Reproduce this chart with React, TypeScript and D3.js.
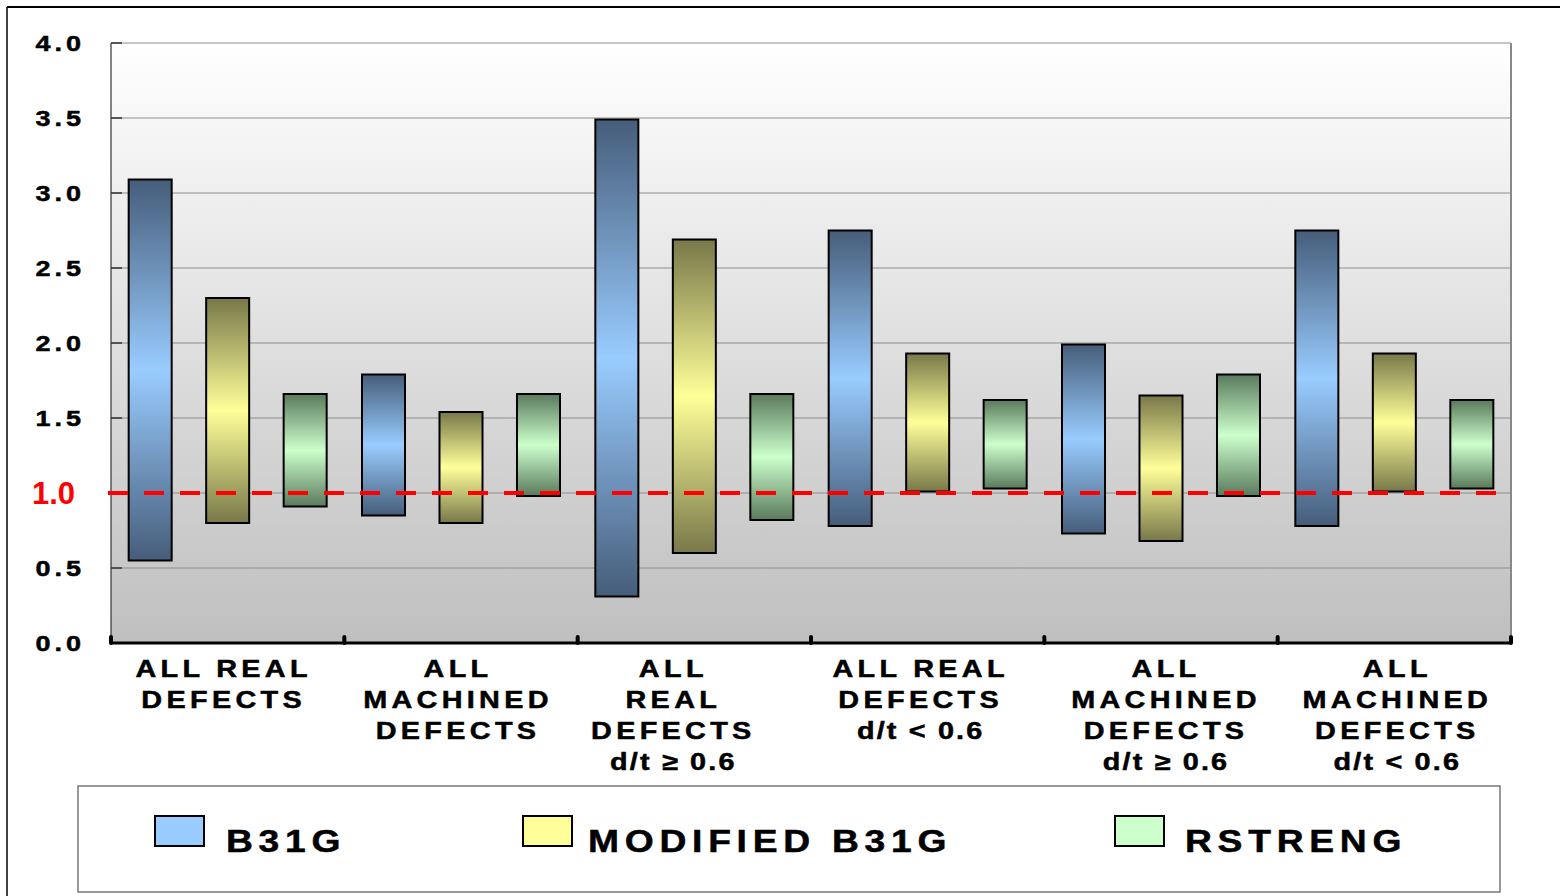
import React from "react";
import * as d3 from "d3";

// Categories (each label split into its display lines)
const categories: string[][] = [
  ["ALL REAL", "DEFECTS"],
  ["ALL", "MACHINED", "DEFECTS"],
  ["ALL", "REAL", "DEFECTS", "d/t ≥ 0.6"],
  ["ALL REAL", "DEFECTS", "d/t < 0.6"],
  ["ALL", "MACHINED", "DEFECTS", "d/t ≥ 0.6"],
  ["ALL", "MACHINED", "DEFECTS", "d/t < 0.6"],
];

const seriesNames = ["B31G", "MODIFIED B31G", "RSTRENG"];

// Range of predicted/actual ratio per method: [low, high]
const b31gRange: [number, number][] = [
  [0.55, 3.09],
  [0.85, 1.79],
  [0.31, 3.49],
  [0.78, 2.75],
  [0.73, 1.99],
  [0.78, 2.75],
];
const modB31gRange: [number, number][] = [
  [0.8, 2.3],
  [0.8, 1.54],
  [0.6, 2.69],
  [1.01, 1.93],
  [0.68, 1.65],
  [1.01, 1.93],
];
const rstrengRange: [number, number][] = [
  [0.91, 1.66],
  [0.98, 1.66],
  [0.82, 1.66],
  [1.03, 1.62],
  [0.98, 1.79],
  [1.03, 1.62],
];

const yTicks = [0, 0.5, 1.0, 1.5, 2.0, 2.5, 3.0, 3.5, 4.0];
const referenceValue = 1.0;

const palette = [
  { id: "gB31G", dark: "#465d7a", light: "#99ccff" },
  { id: "gMod", dark: "#78784a", light: "#ffff99" },
  { id: "gRst", dark: "#5a7a5c", light: "#ccffcc" },
];

// horizontal nudges of the category label blocks (px)
const labelNudge = [-4, -3, -21, -7, 5, 3];

const FONT = "'Liberation Sans', Arial, Helvetica, sans-serif";
// labels use a slightly widened, letter-spaced heavy face
const WIDE = 1.2;

export default function App() {
  const width = 1560;
  const height = 896;
  const plot = { left: 111, right: 1511, top: 43, bottom: 643 };

  const x = d3
    .scaleBand<number>()
    .domain(d3.range(categories.length))
    .range([plot.left, plot.right]);
  const xInner = d3
    .scaleBand<number>()
    .domain(d3.range(seriesNames.length))
    .range([0, x.bandwidth()])
    .paddingInner(0.445)
    .paddingOuter(0.228);
  const y = d3.scaleLinear().domain([0, 4]).range([plot.bottom, plot.top]);

  const series = [b31gRange, modB31gRange, rstrengRange];
  const boundaries = d3.range(categories.length + 1).map((i) =>
    i === categories.length ? plot.right : (x(i) as number)
  );

  const legendItems = [
    { swatchX: 155, textX: 226 },
    { swatchX: 523, textX: 588 },
    { swatchX: 1115, textX: 1185 },
  ];

  const heavy = { fontWeight: "bold" as const, fill: "#000", stroke: "#000", strokeWidth: 0.5 };

  return (
    <svg
      width={width}
      height={height}
      style={{ position: "absolute", left: 0, top: 0, background: "#fff" }}
      fontFamily={FONT}
    >
      <defs>
        <linearGradient id="plotBg" x1="0" y1="0" x2="0" y2="1">
          <stop offset="0%" stopColor="#ffffff" />
          <stop offset="100%" stopColor="#bfbfbf" />
        </linearGradient>
        {palette.map((p) => (
          <linearGradient key={p.id} id={p.id} x1="0" y1="0" x2="0" y2="1">
            <stop offset="0%" stopColor={p.dark} />
            <stop offset="50%" stopColor={p.light} />
            <stop offset="100%" stopColor={p.dark} />
          </linearGradient>
        ))}
      </defs>

      {/* outer frame */}
      <line x1={7} y1={7} x2={width} y2={7} stroke="#000" strokeWidth={2} />
      <line x1={7} y1={7} x2={7} y2={height} stroke="#000" strokeWidth={1.5} />

      {/* plot background */}
      <rect
        x={plot.left}
        y={plot.top}
        width={plot.right - plot.left}
        height={plot.bottom - plot.top}
        fill="url(#plotBg)"
      />

      {/* gridlines */}
      {yTicks.map((t) => (
        <line
          key={"g" + t}
          x1={plot.left}
          x2={plot.right}
          y1={y(t)}
          y2={y(t)}
          stroke="#8e8e8e"
          strokeWidth={1.2}
        />
      ))}
      <line
        x1={plot.right}
        x2={plot.right}
        y1={plot.top}
        y2={plot.bottom}
        stroke="#888"
        strokeWidth={2}
      />
      <line
        x1={plot.left}
        x2={plot.left}
        y1={plot.top}
        y2={plot.bottom}
        stroke="#333"
        strokeWidth={1.2}
      />
      {yTicks.map((t) => (
        <line
          key={"t" + t}
          x1={plot.left}
          x2={plot.left + 11}
          y1={y(t)}
          y2={y(t)}
          stroke="#333"
          strokeWidth={1.5}
        />
      ))}

      {/* floating bars */}
      {series.map((s, si) =>
        s.map(([lo, hi], ci) => {
          const bx = (x(ci) as number) + (xInner(si) as number);
          return (
            <rect
              key={`b${si}-${ci}`}
              x={bx}
              y={y(hi)}
              width={xInner.bandwidth()}
              height={y(lo) - y(hi)}
              fill={`url(#${palette[si].id})`}
              stroke="#000"
              strokeWidth={2}
            />
          );
        })
      )}

      {/* reference line at 1.0 */}
      <line
        x1={plot.left - 3}
        x2={plot.right}
        y1={y(referenceValue)}
        y2={y(referenceValue)}
        stroke="#ff0000"
        strokeWidth={4}
        strokeDasharray="20,16"
      />

      {/* x axis */}
      <line
        x1={plot.left}
        x2={plot.right}
        y1={plot.bottom}
        y2={plot.bottom}
        stroke="#000"
        strokeWidth={3}
      />
      {boundaries.map((bx, i) => (
        <line
          key={"xt" + i}
          x1={bx}
          x2={bx}
          y1={plot.bottom - 6}
          y2={plot.bottom}
          stroke="#000"
          strokeWidth={4}
          strokeLinecap="round"
        />
      ))}

      {/* y tick labels */}
      {yTicks.map((t) =>
        t === referenceValue ? (
          <text
            key={"yl" + t}
            x={75}
            y={y(t) + 11}
            textAnchor="end"
            fontSize={31}
            fontWeight="bold"
            fill="#ff0000"
          >
            {t.toFixed(1)}
          </text>
        ) : (
          <g key={"yl" + t} transform={`translate(85,${y(t) + 8}) scale(${WIDE},1)`}>
            <text x={0} y={0} textAnchor="end" fontSize={22.5} letterSpacing={3.3} {...heavy}>
              {t.toFixed(1)}
            </text>
          </g>
        )
      )}

      {/* category labels */}
      {categories.map((lines, ci) => {
        const cx = (x(ci) as number) + x.bandwidth() / 2 + labelNudge[ci];
        return (
          <g key={"c" + ci}>
            {lines.map((ln, li) => (
              <g key={li} transform={`translate(${cx},${677 + li * 31}) scale(${WIDE},1)`}>
                <text
                  x={0}
                  y={0}
                  textAnchor="middle"
                  fontSize={24}
                  letterSpacing={ln.startsWith("d/t") ? 1.8 : 3.6}
                  {...heavy}
                >
                  {ln}
                </text>
              </g>
            ))}
          </g>
        );
      })}

      {/* legend */}
      <rect
        x={78}
        y={786}
        width={1422}
        height={106}
        fill="#fff"
        stroke="#777"
        strokeWidth={1.5}
      />
      {seriesNames.map((name, si) => (
        <g key={"lg" + si}>
          <rect
            x={legendItems[si].swatchX}
            y={816}
            width={49}
            height={30}
            fill={palette[si].light}
            stroke="#000"
            strokeWidth={2}
          />
          <g transform={`translate(${legendItems[si].textX},852) scale(${WIDE},1)`}>
            <text x={0} y={0} fontSize={31} letterSpacing={4.8} {...heavy}>
              {name}
            </text>
          </g>
        </g>
      ))}
    </svg>
  );
}
